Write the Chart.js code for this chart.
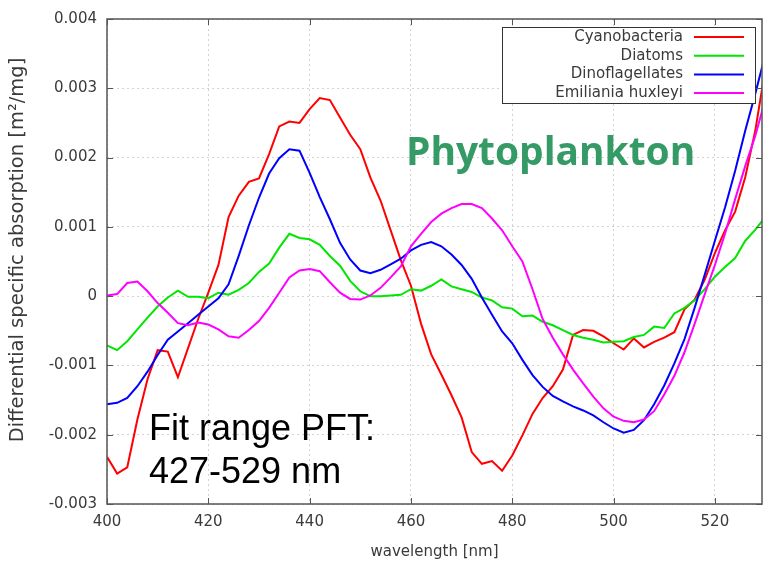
<!DOCTYPE html>
<html>
<head>
<meta charset="utf-8">
<script src="https://cdn.jsdelivr.net/npm/chart.js@4.4.1/dist/chart.umd.min.js"></script>
<style>
  html, body { margin: 0; padding: 0; background: #fff; }
</style>
</head>
<body>
<canvas id="chart" width="764" height="564"></canvas>
<script>
// SPECTRA DATA
// wavelength grid in nm
const wavelengths = [
    400, 402, 404, 406, 408, 410, 412, 414, 416, 418,
    420, 422, 424, 426, 428, 430, 432, 434, 436, 438,
    440, 442, 444, 446, 448, 450, 452, 454, 456, 458,
    460, 462, 464, 466, 468, 470, 472, 474, 476, 478,
    480, 482, 484, 486, 488, 490, 492, 494, 496, 498,
    500, 502, 504, 506, 508, 510, 512, 514, 516, 518,
    520, 522, 524, 526, 528, 530
];

// differential specific absorption, in units of 0.001 m^2/mg
const cyanobacteria = [
    -2.32, -2.56, -2.47, -1.78, -1.20, -0.78, -0.80, -1.17, -0.75, -0.33,
    0.05, 0.45, 1.14, 1.45, 1.65, 1.70, 2.05, 2.45, 2.52, 2.50,
    2.70, 2.86, 2.83, 2.58, 2.33, 2.12, 1.71, 1.38, 0.95, 0.52,
    0.15, -0.40, -0.84, -1.13, -1.43, -1.75, -2.25, -2.42, -2.38, -2.52,
    -2.30, -2.01, -1.70, -1.47, -1.30, -1.06, -0.56, -0.49, -0.50, -0.58,
    -0.68, -0.77, -0.61, -0.74, -0.66, -0.60, -0.52, -0.19, -0.05, 0.24,
    0.62, 0.95, 1.22, 1.72, 2.40, 3.30
];
const diatoms = [
    -0.71, -0.78, -0.65, -0.48, -0.31, -0.15, -0.02, 0.08, -0.01, -0.01,
    -0.03, 0.05, 0.02, 0.09, 0.19, 0.35, 0.47, 0.70, 0.90, 0.84,
    0.82, 0.74, 0.58, 0.44, 0.22, 0.07, 0.00, 0.00, 0.01, 0.02,
    0.10, 0.08, 0.15, 0.24, 0.14, 0.10, 0.06, -0.02, -0.06, -0.16,
    -0.18, -0.29, -0.28, -0.37, -0.42, -0.49, -0.56, -0.60, -0.63, -0.67,
    -0.66, -0.65, -0.59, -0.56, -0.44, -0.46, -0.25, -0.17, -0.06, 0.10,
    0.28, 0.42, 0.55, 0.80, 0.96, 1.15
];
const dinoflagellates = [
    -1.56, -1.54, -1.47, -1.30, -1.09, -0.85, -0.63, -0.51, -0.39, -0.27,
    -0.15, -0.03, 0.17, 0.58, 1.02, 1.42, 1.77, 1.99, 2.12, 2.10,
    1.78, 1.43, 1.11, 0.77, 0.53, 0.37, 0.33, 0.38, 0.46, 0.54,
    0.66, 0.74, 0.78, 0.72, 0.60, 0.45, 0.25, -0.02, -0.27, -0.51,
    -0.68, -0.92, -1.14, -1.31, -1.44, -1.52, -1.59, -1.65, -1.72, -1.82,
    -1.91, -1.97, -1.93, -1.79, -1.56, -1.29, -0.97, -0.62, -0.17, 0.31,
    0.80, 1.28, 1.81, 2.39, 2.93, 3.50
];
const emiliania = [
    0.01, 0.03, 0.19, 0.21, 0.07, -0.10, -0.24, -0.39, -0.42, -0.38,
    -0.41, -0.48, -0.58, -0.60, -0.49, -0.36, -0.17, 0.05, 0.27, 0.37,
    0.39, 0.36, 0.20, 0.05, -0.04, -0.05, 0.01, 0.12, 0.27, 0.43,
    0.72, 0.90, 1.07, 1.19, 1.27, 1.33, 1.33, 1.27, 1.12, 0.95,
    0.72, 0.50, 0.10, -0.33, -0.60, -0.84, -1.06, -1.26, -1.45, -1.62,
    -1.74, -1.80, -1.82, -1.78, -1.66, -1.42, -1.15, -0.81, -0.40, 0.03,
    0.45, 0.90, 1.40, 1.88, 2.32, 2.85
];

const seriesNames = ["Cyanobacteria", "Diatoms", "Dinoflagellates", "Emiliania huxleyi"];
const seriesValues = [cyanobacteria, diatoms, dinoflagellates, emiliania];
const seriesColors = ["#ff0000", "#00e600", "#0000ff", "#ff00ff"];
const yTickLabels = ["-0.003", "-0.002", "-0.001", "0", "0.001", "0.002", "0.003", "0.004"];

const tickFont = { family: "'DejaVu Sans', sans-serif", size: 15 };
const inkColor = "#3a3a3a";

// BORDER, INWARD TICKS, LEGEND, NOTES
const overlay = {
    id: "overlay",
    afterDraw(chart) {
        const { ctx, chartArea: a, scales: { x, y } } = chart;
        ctx.save();

        // inward ticks (gnuplot style, all sides)
        ctx.strokeStyle = "#555";
        ctx.lineWidth = 1;
        ctx.beginPath();
        x.ticks.forEach(t => {
            const px = Math.round(x.getPixelForValue(t.value)) + 0.5;
            ctx.moveTo(px, a.bottom); ctx.lineTo(px, a.bottom - 6);
            ctx.moveTo(px, a.top); ctx.lineTo(px, a.top + 6);
        });
        y.ticks.forEach(t => {
            const py = Math.round(y.getPixelForValue(t.value)) + 0.5;
            ctx.moveTo(a.left, py); ctx.lineTo(a.left + 6, py);
            ctx.moveTo(a.right, py); ctx.lineTo(a.right - 6, py);
        });
        ctx.stroke();

        // plot border
        ctx.lineWidth = 1.5;
        ctx.strokeStyle = "#555";
        ctx.strokeRect(a.left, a.top, a.right - a.left, a.bottom - a.top);

        // y axis title, drawn by hand to sit where the picture has it
        ctx.save();
        ctx.translate(18, 250);
        ctx.rotate(-Math.PI / 2);
        ctx.font = "19.5px 'DejaVu Sans', sans-serif";
        ctx.fillStyle = inkColor;
        ctx.textAlign = "center";
        ctx.textBaseline = "middle";
        ctx.fillText("Differential specific absorption [m\u00b2/mg]", 0, 0);
        ctx.restore();

        // legend box
        const boxRight = a.right - 7;
        const boxLeft = boxRight - 253;
        const boxTop = a.top + 8;
        const boxH = 76;
        ctx.fillStyle = "#fff";
        ctx.fillRect(boxLeft, boxTop, boxRight - boxLeft, boxH);
        ctx.lineWidth = 1;
        ctx.strokeStyle = "#333";
        ctx.strokeRect(boxLeft + 0.5, boxTop + 0.5, boxRight - boxLeft, boxH);
        ctx.font = "15px 'DejaVu Sans', sans-serif";
        ctx.textAlign = "right";
        ctx.textBaseline = "middle";
        seriesNames.forEach((name, i) => {
            const rowY = boxTop + 10 + i * 18.7;
            ctx.fillStyle = inkColor;
            ctx.fillText(name, boxRight - 72, rowY);
            ctx.strokeStyle = seriesColors[i];
            ctx.lineWidth = 2;
            ctx.beginPath();
            ctx.moveTo(boxRight - 61, rowY);
            ctx.lineTo(boxRight - 11, rowY);
            ctx.stroke();
        });

        // "Phytoplankton" label, scaled to its width in the picture
        ctx.textAlign = "left";
        ctx.textBaseline = "alphabetic";
        ctx.font = "bold 40px 'Open Sans', sans-serif";
        const w = ctx.measureText("Phytoplankton").width;
        const size = 40 * 289 / w;
        ctx.font = "bold " + size.toFixed(1) + "px 'Open Sans', sans-serif";
        ctx.fillStyle = "#349a66";
        ctx.fillText("Phytoplankton", 406, 165);

        // fit range note
        ctx.font = "36px 'Liberation Sans', Arial, sans-serif";
        ctx.fillStyle = "#000";
        ctx.fillText("Fit range PFT:", 149, 440);
        ctx.fillText("427-529 nm", 149, 483);

        ctx.restore();
    }
};

// CREATE CHART
new Chart(document.getElementById("chart"), {
    type: "line",
    data: {
        datasets: seriesNames.map((name, i) => ({
            label: name,
            data: wavelengths.map((w, j) => ({ x: w, y: seriesValues[i][j] })),
            borderColor: seriesColors[i],
            borderWidth: 2,
            pointRadius: 0,
            fill: false,
            tension: 0,
            order: seriesNames.length - i
        }))
    },
    options: {
        responsive: false,
        animation: false,
        devicePixelRatio: 1,
        layout: { padding: { top: 14, right: 2, left: 0, bottom: 0 } },
        plugins: {
            legend: { display: false },
            tooltip: { enabled: false }
        },
        scales: {
            x: {
                type: "linear",
                min: 400,
                max: 529.3,
                ticks: {
                    stepSize: 20,
                    includeBounds: false,
                    padding: 9,
                    color: inkColor,
                    font: tickFont
                },
                grid: { color: "#d2d2d2", drawTicks: false },
                border: { display: false, dash: [2, 3] },
                title: {
                    display: true,
                    text: "wavelength [nm]",
                    color: inkColor,
                    font: tickFont,
                    padding: { top: 0, bottom: 3 }
                },
                afterFit(scale) { scale.height = 60; }
            },
            y: {
                min: -3,
                max: 4,
                ticks: {
                    stepSize: 1,
                    padding: 10,
                    color: inkColor,
                    font: tickFont,
                    callback: (v, i) => yTickLabels[i]
                },
                grid: { color: "#d2d2d2", drawTicks: false },
                border: { display: false, dash: [2, 3] },
                afterFit(scale) { scale.width = 107; }
            }
        }
    },
    plugins: [overlay]
});
</script>
</body>
</html>
